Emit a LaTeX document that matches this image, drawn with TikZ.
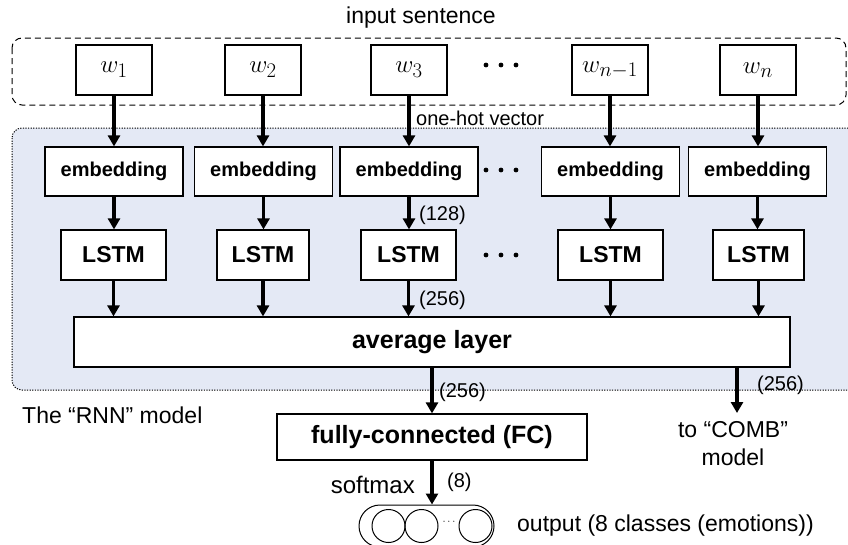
\documentclass[tikz,border=0pt]{standalone}
\usepackage{fontspec}
\setmainfont{Liberation Sans}
\usetikzlibrary{arrows.meta,calc}
\definecolor{panelblue}{RGB}{228,233,245}
\begin{document}
\begin{tikzpicture}[x=1pt,y=-1pt,
  box/.style={draw=black, fill=white, line width=1.2pt, inner sep=0pt},
  wbox/.style={box, minimum width=76pt, minimum height=50pt, font=\fontsize{24.88}{30}\selectfont},
  ebox/.style={box, minimum width=138pt, minimum height=49pt, font=\fontsize{20}{24}\selectfont\bfseries},
  lbox/.style={box, minimum height=50pt, font=\fontsize{23}{28}\selectfont\bfseries},
  arr/.style={line width=3.4pt, -{Triangle[length=11pt,width=12pt]}},
  big/.style={font=\fontsize{23}{28}\selectfont, inner sep=0pt},
  small/.style={font=\fontsize{20}{24}\selectfont, inner sep=0pt},
  dotmark/.style={fill=black},
  unit/.style={draw=black, line width=1pt, circle, minimum size=33pt, inner sep=0pt}
]
\useasboundingbox (0,0) rectangle (848,544);

% panels
\draw[dash pattern=on 6pt off 4pt, line width=1pt, rounded corners=10pt] (12,38) rectangle (846,105);
\draw[fill=panelblue, dash pattern=on 1.2pt off 1.4pt, line width=1pt, rounded corners=10pt] (12,128) rectangle (870,390);

% titles
\node[big] (title) at (421,18) {input sentence};
\node[small, anchor=west] (onehot) at (416,118) {one-hot vector};

% word boxes
\node[wbox] (w1) at (114,70) {$w_1$};
\node[wbox] (w2) at (263,70) {$w_2$};
\node[wbox] (w3) at (409,70) {$w_3$};
\node[wbox] (w4) at (610,70) {$w_{n-1}$};
\node[wbox] (w5) at (758,70) {$w_n$};

% embedding boxes
\node[ebox] (e1) at (114,171.5) {embedding};
\node[ebox] (e2) at (263.5,171.5) {embedding};
\node[ebox] (e3) at (409,171.5) {embedding};
\node[ebox] (e4) at (610.5,171.5) {embedding};
\node[ebox] (e5) at (757.5,171.5) {embedding};

% LSTM boxes
\node[lbox, minimum width=105pt] (l1) at (113.5,255) {LSTM};
\node[lbox, minimum width=92pt] (l2) at (263,255) {LSTM};
\node[lbox, minimum width=95pt] (l3) at (408.5,255) {LSTM};
\node[lbox, minimum width=105pt] (l4) at (610.5,255) {LSTM};
\node[lbox, minimum width=91pt] (l5) at (758.5,255) {LSTM};

% average layer and FC
\node[box, minimum width=716pt, minimum height=50pt, font=\fontsize{25}{30}\selectfont\bfseries] (avg) at (432,342) {average layer};
\node[box, minimum width=310pt, minimum height=46pt, font=\fontsize{25}{30}\selectfont\bfseries] (fc) at (432,437) {fully-connected (FC)};

% output capsule
\node[draw=black, line width=1pt, rounded corners=21pt, minimum width=135pt, minimum height=42pt, inner sep=0pt] (cap) at (426.5,526) {};
\node[unit] (c1) at (388.5,526) {};
\node[unit] (c2) at (421.5,526) {};
\node[unit] (c3) at (475.5,526) {};
\node[inner sep=0pt, font=\fontsize{11}{11}\selectfont] (cdots) at (449,522) {$\cdots$};

% ellipsis dots
\foreach \y in {65,170,255}{
  \fill[dotmark] (486,\y) circle[radius=2.4pt];
  \fill[dotmark] (501,\y) circle[radius=2.4pt];
  \fill[dotmark] (516,\y) circle[radius=2.4pt];
}

% arrows
\foreach \i in {1,...,5}{
  \draw[arr] (w\i.south) -- (w\i.south |- e\i.north);
  \draw[arr] (e\i.south) -- (e\i.south |- l\i.north);
  \draw[arr] (l\i.south) -- (l\i.south |- avg.north);
}
\draw[arr] (avg.south -| fc.north) -- (fc.north);
\coordinate (combend) at (737,413);
\draw[arr] (avg.south -| combend) -- (combend);
\draw[arr] (fc.south) -- (fc.south |- cap.north);

% labels
\node[small, anchor=west] (d128) at (419,215) {(128)};
\node[small, anchor=west] (d256a) at (419,300) {(256)};
\node[small, anchor=west] (d256b) at (439,392) {(256)};
\node[small, anchor=west] (d256c) at (757,385) {(256)};
\node[big, anchor=west] (rnn) at (22,415) {The “RNN” model};
\node[font=\fontsize{24}{28}\selectfont, inner sep=0pt, anchor=east] (softmax) at (415,485) {softmax};
\node[small, anchor=west] (d8) at (447,482) {(8)};
\node[big, anchor=west] (outlab) at (517,526) {output (8 classes (emotions))};
\node[big, align=center, anchor=north] (comb) at (733,421) {to “COMB”\\model};
\end{tikzpicture}
\end{document}
